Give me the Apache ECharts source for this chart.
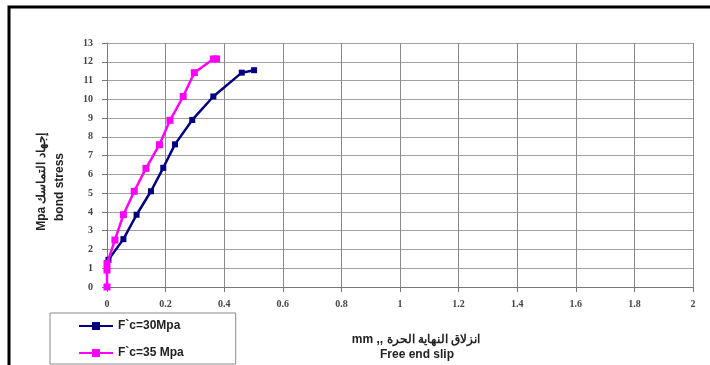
<!DOCTYPE html>
<html>
<head>
<meta charset="utf-8">
<script src="https://cdn.jsdelivr.net/npm/echarts@6/dist/echarts.min.js"></script>
<style>
  html, body { margin: 0; padding: 0; background: #fff; }
  #chart { width: 710px; height: 365px; }
</style>
</head>
<body>
<div id="chart"></div>
<script>
// Free end slip (mm) against bond stress (MPa) for two concrete strengths
const seriesNames = ['F`c=30Mpa', 'F`c=35 Mpa'];

const slip30 = [0.005, 0.056, 0.101, 0.150, 0.192, 0.232, 0.291, 0.363, 0.460, 0.502];
const stress30 = [1.45, 2.55, 3.85, 5.10, 6.35, 7.60, 8.90, 10.15, 11.42, 11.55];

const slip35 = [0.0, 0.0, 0.0, 0.027, 0.056, 0.093, 0.133, 0.179, 0.215, 0.260, 0.298, 0.363, 0.374];
const stress35 = [0.0, 0.9, 1.25, 2.50, 3.85, 5.10, 6.32, 7.58, 8.88, 10.15, 11.42, 12.15, 12.15];

const xTicks = [0, 0.2, 0.4, 0.6, 0.8, 1, 1.2, 1.4, 1.6, 1.8, 2];
const yTicks = [0, 1, 2, 3, 4, 5, 6, 7, 8, 9, 10, 11, 12, 13];

const pairs = (xs, ys) => xs.map((x, i) => [x, ys[i]]);

const tickFont = {
  fontFamily: 'Liberation Serif',
  fontWeight: 'bold',
  fontSize: 10,
  color: '#444'
};

const chart = echarts.init(document.getElementById('chart'), null, { renderer: 'canvas' });

chart.setOption({
  animation: false,
  backgroundColor: '#fff',
  grid: { left: 107, right: 17, top: 43, bottom: 78, containLabel: false },
  xAxis: {
    type: 'value',
    min: xTicks[0],
    max: xTicks[xTicks.length - 1],
    interval: 0.2,
    axisLine: { show: true, onZero: false, lineStyle: { color: '#777', width: 1 } },
    axisTick: { show: true, inside: false, length: 5, lineStyle: { color: '#777' } },
    splitLine: { show: true, lineStyle: { color: '#8a8a8a', width: 1 } },
    axisLabel: Object.assign({ margin: 12, formatter: v => String(+v.toFixed(1)) }, tickFont)
  },
  yAxis: {
    type: 'value',
    min: yTicks[0],
    max: yTicks[yTicks.length - 1],
    interval: 1,
    axisLine: { show: true, onZero: false, lineStyle: { color: '#777', width: 1 } },
    axisTick: { show: true, length: 5, lineStyle: { color: '#777' } },
    splitLine: { show: true, lineStyle: { color: '#a0a0a0', width: 1 } },
    axisLabel: Object.assign({ margin: 14 }, tickFont)
  },
  legend: {
    orient: 'vertical',
    left: 50,
    top: 313,
    padding: [7, 52, 5, 28],
    itemWidth: 34,
    itemHeight: 10,
    itemGap: 15,
    borderColor: '#8a8a8a',
    borderWidth: 1,
    textStyle: {
      fontFamily: 'Liberation Sans',
      fontWeight: 'bold',
      fontSize: 12,
      color: '#222'
    },
    data: seriesNames
  },
  graphic: [
    {
      type: 'rect',
      silent: true,
      shape: { x: 9, y: 7, width: 760, height: 400 },
      style: { fill: 'none', stroke: '#000', lineWidth: 3 }
    },
    {
      type: 'text',
      silent: true,
      x: 42, y: 182, rotation: Math.PI / 2,
      style: {
        text: 'Mpa إجهاد التماسك',
        font: 'bold 12px "Liberation Sans"',
        fill: '#222',
        align: 'center',
        verticalAlign: 'middle'
      }
    },
    {
      type: 'text',
      silent: true,
      x: 60, y: 187, rotation: Math.PI / 2,
      style: {
        text: 'bond stress',
        font: 'bold 12px "Liberation Sans"',
        fill: '#222',
        align: 'center',
        verticalAlign: 'middle'
      }
    },
    {
      type: 'text',
      silent: true,
      x: 416, y: 340,
      style: {
        text: 'mm ,, انزلاق النهاية الحرة',
        font: 'bold 12px "Liberation Sans"',
        fill: '#222',
        align: 'center',
        verticalAlign: 'middle'
      }
    },
    {
      type: 'text',
      silent: true,
      x: 417, y: 355,
      style: {
        text: 'Free end slip',
        font: 'bold 12px "Liberation Sans"',
        fill: '#222',
        align: 'center',
        verticalAlign: 'middle'
      }
    }
  ],
  series: [
    {
      name: seriesNames[0],
      type: 'line',
      data: pairs(slip30, stress30),
      symbol: 'rect',
      symbolSize: 6,
      lineStyle: { color: '#000080', width: 2.5 },
      itemStyle: { color: '#000080' },
      z: 2
    },
    {
      name: seriesNames[1],
      type: 'line',
      data: pairs(slip35, stress35),
      symbol: 'rect',
      symbolSize: 7,
      lineStyle: { color: '#ff00ff', width: 2.5 },
      itemStyle: { color: '#ff00ff' },
      z: 3
    }
  ]
});
</script>
</body>
</html>
